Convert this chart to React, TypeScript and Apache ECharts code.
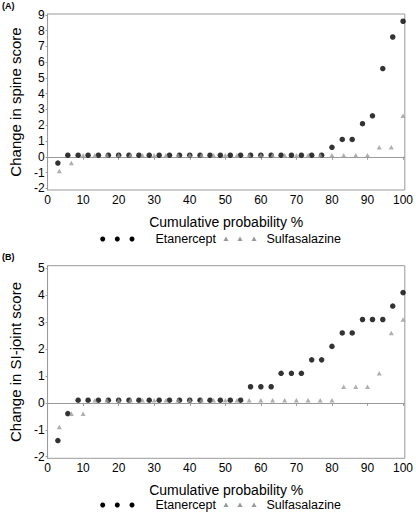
import React, { useEffect, useRef } from "react";
import * as echarts from "echarts";

// Cumulative probability (%) for each patient
const etanerceptPct = [
  2.9, 5.7, 8.6, 11.4, 14.3, 17.1, 20.0, 22.9, 25.7, 28.6, 31.4, 34.3, 37.1, 40.0, 42.9, 45.7, 48.6, 51.4,
  54.3, 57.1, 60.0, 62.9, 65.7, 68.6, 71.4, 74.3, 77.1, 80.0, 82.9, 85.7, 88.6, 91.4, 94.3, 97.1, 100,
];
const sulfasalazinePct = [
  3.3, 6.7, 10.0, 13.3, 16.7, 20.0, 23.3, 26.7, 30.0, 33.3, 36.7, 40.0, 43.3, 46.7, 50.0, 53.3, 56.7, 60.0,
  63.3, 66.7, 70.0, 73.3, 76.7, 80.0, 83.3, 86.7, 90.0, 93.3, 96.7, 100,
];

// (A) Change in spine score
const spineEtanercept = [
  -0.4, 0.1, 0.1, 0.1, 0.1, 0.1, 0.1, 0.1, 0.1, 0.1, 0.1, 0.1, 0.1, 0.1, 0.1, 0.1, 0.1, 0.1, 0.1, 0.1, 0.1,
  0.1, 0.1, 0.1, 0.1, 0.1, 0.1, 0.6, 1.1, 1.1, 2.1, 2.6, 5.6, 7.6, 8.6,
];
const spineSulfasalazine = [
  -0.9, -0.4, 0.1, 0.1, 0.1, 0.1, 0.1, 0.1, 0.1, 0.1, 0.1, 0.1, 0.1, 0.1, 0.1, 0.1, 0.1, 0.1, 0.1, 0.1, 0.1,
  0.1, 0.1, 0.1, 0.1, 0.1, 0.1, 0.6, 0.6, 2.6,
];

// (B) Change in SI-joint score
const siEtanercept = [
  -1.4, -0.4, 0.1, 0.1, 0.1, 0.1, 0.1, 0.1, 0.1, 0.1, 0.1, 0.1, 0.1, 0.1, 0.1, 0.1, 0.1, 0.1, 0.1, 0.6, 0.6,
  0.6, 1.1, 1.1, 1.1, 1.6, 1.6, 2.1, 2.6, 2.6, 3.1, 3.1, 3.1, 3.6, 4.1,
];
const siSulfasalazine = [
  -0.9, -0.4, -0.4, 0.1, 0.1, 0.1, 0.1, 0.1, 0.1, 0.1, 0.1, 0.1, 0.1, 0.1, 0.1, 0.1, 0.1, 0.1, 0.1, 0.1, 0.1,
  0.1, 0.1, 0.1, 0.6, 0.6, 0.6, 1.1, 2.6, 3.1,
];

const xTicks = [0, 10, 20, 30, 40, 50, 60, 70, 80, 90, 100];
const spineTicks = [-2, -1, 0, 1, 2, 3, 4, 5, 6, 7, 8, 9];
const siTicks = [-2, -1, 0, 1, 2, 3, 4, 5];
const panelLabels = ["(A)", "(B)"];
const yNames = ["Change in spine score", "Change in SI-joint score"];
const xName = "Cumulative probability %";
const seriesNames = ["Etanercept", "Sulfasalazine"];

const FONT = "'Liberation Sans', Arial, sans-serif";
const AXIS_COLOR = "#9a9a9a";
const TRI_COLOR = "#9b9b9b";

const pair = (xs: number[], ys: number[]) => xs.map((x, i) => [x, ys[i]]);

export default function App() {
  const ref = useRef<HTMLDivElement>(null);

  useEffect(() => {
    if (!ref.current) return;
    const chart = echarts.init(ref.current, null, { renderer: "svg" });

    const grids = [
      { left: 37.5, top: 14, width: 369.5, height: 176 },
      { left: 37.5, top: 265.7, width: 369.5, height: 192.6 },
    ];
    const yRanges = [
      { min: -2.11, max: 9.06, ticks: spineTicks },
      { min: -2.06, max: 5.1, ticks: siTicks },
    ];

    const makeX = (gi: number) => ({
      type: "value",
      gridIndex: gi,
      min: 0,
      max: 100.5,
      name: xName,
      nameLocation: "middle",
      nameGap: 25,
      nameTextStyle: { fontFamily: FONT, fontSize: 14, color: "#000" },
      axisLine: { show: true, lineStyle: { color: AXIS_COLOR, width: 1 } },
      axisTick: { show: true, length: 3, customValues: xTicks, lineStyle: { color: AXIS_COLOR } },
      axisLabel: { fontFamily: FONT, fontSize: 12, color: "#000", margin: 4, customValues: xTicks },
      splitLine: { show: false },
    });
    const makeY = (gi: number) => ({
      type: "value",
      gridIndex: gi,
      min: yRanges[gi].min,
      max: yRanges[gi].max,
      name: yNames[gi],
      nameLocation: "middle",
      nameGap: 21,
      nameTextStyle: { fontFamily: FONT, fontSize: 15, color: "#000" },
      axisLine: { show: true, lineStyle: { color: AXIS_COLOR, width: 1 } },
      axisTick: { show: true, length: 2, customValues: yRanges[gi].ticks, lineStyle: { color: AXIS_COLOR } },
      axisLabel: {
        fontFamily: FONT,
        fontSize: 12,
        color: "#000",
        margin: 3,
        customValues: yRanges[gi].ticks,
      },
      splitLine: { show: false },
    });

    const etanStyle = { color: "#000" };
    const sulfStyle = { color: TRI_COLOR };

    const legendAt = (y: number) => [
      ...[102.7, 117.3, 132].map((cx) => ({
        type: "circle",
        shape: { cx, cy: y, r: 2.5 },
        style: { fill: "#000" },
      })),
      {
        type: "text",
        x: 155.5,
        y,
        style: { text: seriesNames[0], fontFamily: FONT, fontSize: 12.5, fill: "#000", verticalAlign: "middle" },
      },
      ...[226, 240, 254].map((cx) => ({
        type: "polygon",
        shape: { points: [[cx, y - 2.6], [cx + 2.6, y + 2], [cx - 2.6, y + 2]] },
        style: { fill: TRI_COLOR },
      })),
      {
        type: "text",
        x: 266.5,
        y,
        style: { text: seriesNames[1], fontFamily: FONT, fontSize: 12.5, fill: "#000", verticalAlign: "middle" },
      },
    ];

    const scatter = (name: string, gi: number, xs: number[], ys: number[], isTri: boolean) => ({
      name,
      type: "scatter",
      xAxisIndex: gi,
      yAxisIndex: gi,
      symbol: isTri ? "triangle" : "circle",
      symbolSize: isTri ? [5, 4.5] : 5.5,
      itemStyle: isTri ? sulfStyle : etanStyle,
      data: pair(xs, ys),
    });

    chart.setOption({
      animation: false,
      backgroundColor: "#fff",
      grid: grids.map((g) => ({ ...g, show: true, borderColor: AXIS_COLOR, borderWidth: 1, backgroundColor: "transparent" })),
      xAxis: [makeX(0), makeX(1)],
      yAxis: [makeY(0), makeY(1)],
      series: [
        scatter(seriesNames[0], 0, etanerceptPct, spineEtanercept, false),
        scatter(seriesNames[1], 0, sulfasalazinePct, spineSulfasalazine, true),
        scatter(seriesNames[0], 1, etanerceptPct, siEtanercept, false),
        scatter(seriesNames[1], 1, sulfasalazinePct, siSulfasalazine, true),
      ],
      graphic: [
        {
          type: "text",
          x: 2,
          y: 6,
          style: { text: panelLabels[0], fontFamily: FONT, fontSize: 9, fontWeight: "bold", fill: "#000", verticalAlign: "middle" },
        },
        {
          type: "text",
          x: 2,
          y: 257,
          style: { text: panelLabels[1], fontFamily: FONT, fontSize: 9, fontWeight: "bold", fill: "#000", verticalAlign: "middle" },
        },
        ...legendAt(239),
        ...legendAt(505),
      ],
    });

    return () => chart.dispose();
  }, []);

  return (
    <div
      ref={ref}
      style={{ position: "fixed", left: 0, top: 0, width: 416, height: 514, background: "#fff" }}
    />
  );
}
